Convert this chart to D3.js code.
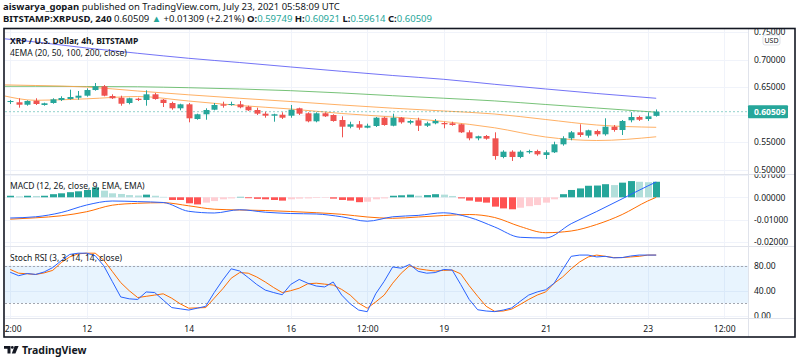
<!DOCTYPE html>
<html>
<head>
<meta charset="utf-8">
<script src="https://cdn.jsdelivr.net/npm/d3@7"></script>
<style>
  body { margin: 0; background: #fff; }
  svg { display: block; font-family: 'Noto Sans', 'Liberation Sans', sans-serif; }
</style>
</head>
<body>
<div id="chart"></div>
<script>
// ---- data (4h candles, first one is 2021-07-10 12:00 UTC) ----
const candleStart = Date.UTC(2021, 6, 10, 12)
const opens = [0.6227, 0.6222, 0.6178, 0.6251, 0.6173, 0.6209, 0.6264, 0.6282, 0.6305, 0.6342,
  0.6445, 0.6513, 0.6336, 0.6305, 0.6209, 0.6287, 0.6264, 0.6367, 0.6269, 0.6209,
  0.6113, 0.6185, 0.5918, 0.6004, 0.6087, 0.6185, 0.6173, 0.6185, 0.6142, 0.6082,
  0.6015, 0.5978, 0.5996, 0.5978, 0.6113, 0.6022, 0.5876, 0.6022, 0.5991, 0.5900,
  0.5778, 0.5822, 0.5760, 0.5791, 0.5942, 0.5796, 0.5942, 0.5851, 0.5895, 0.5796,
  0.5840, 0.5845, 0.5840, 0.5822, 0.5676, 0.5567, 0.5609, 0.5567, 0.5227, 0.5324,
  0.5227, 0.5313, 0.5336, 0.5264, 0.5313, 0.5458, 0.5567, 0.5676, 0.5615, 0.5700,
  0.5640, 0.5778, 0.5718, 0.5895, 0.5955, 0.5918, 0.59749]
const highs = [0.6264, 0.6295, 0.6258, 0.6295, 0.6215, 0.6295, 0.6331, 0.6451, 0.6427, 0.6476,
  0.6573, 0.6536, 0.6367, 0.6342, 0.6305, 0.6305, 0.6440, 0.6391, 0.6282, 0.6233,
  0.6196, 0.6209, 0.6015, 0.6113, 0.6209, 0.6233, 0.6233, 0.6245, 0.6160, 0.6124,
  0.6051, 0.6015, 0.6040, 0.6173, 0.6124, 0.6040, 0.6040, 0.6040, 0.6004, 0.5967,
  0.5869, 0.5882, 0.5833, 0.5955, 0.5960, 0.6015, 0.5955, 0.5905, 0.5942, 0.5869,
  0.5918, 0.5869, 0.5869, 0.5833, 0.5713, 0.5615, 0.5627, 0.5676, 0.5349, 0.5349,
  0.5349, 0.5360, 0.5360, 0.5349, 0.5505, 0.5604, 0.5700, 0.5822, 0.5724, 0.5724,
  0.5931, 0.5809, 0.5900, 0.6040, 0.5978, 0.6040, 0.60921]
const lows = [0.6191, 0.6124, 0.6160, 0.6173, 0.6160, 0.6196, 0.6245, 0.6269, 0.6269, 0.6324,
  0.6433, 0.6331, 0.6282, 0.6160, 0.6185, 0.6245, 0.6160, 0.6269, 0.6136, 0.6087,
  0.6076, 0.5858, 0.5905, 0.5905, 0.6076, 0.6124, 0.6160, 0.6113, 0.6064, 0.5991,
  0.5942, 0.5869, 0.5918, 0.5942, 0.5991, 0.5858, 0.5858, 0.5955, 0.5869, 0.5585,
  0.5749, 0.5724, 0.5749, 0.5773, 0.5796, 0.5785, 0.5833, 0.5822, 0.5700, 0.5773,
  0.5822, 0.5749, 0.5796, 0.5664, 0.5531, 0.5531, 0.5542, 0.5178, 0.5204, 0.5155,
  0.5204, 0.5287, 0.5251, 0.5191, 0.5300, 0.5433, 0.5531, 0.5591, 0.5578, 0.5604,
  0.5615, 0.5687, 0.5627, 0.5858, 0.5882, 0.5882, 0.59614]
const closes = [0.6245, 0.6178, 0.6245, 0.6191, 0.6204, 0.6276, 0.6300, 0.6318, 0.6342, 0.6445,
  0.6513, 0.6342, 0.6295, 0.6196, 0.6295, 0.6264, 0.6367, 0.6282, 0.6209, 0.6113,
  0.6185, 0.5931, 0.6004, 0.6082, 0.6173, 0.6160, 0.6191, 0.6131, 0.6076, 0.6015,
  0.5978, 0.6004, 0.5942, 0.6087, 0.6015, 0.5876, 0.6022, 0.5967, 0.5882, 0.5778,
  0.5822, 0.5760, 0.5796, 0.5942, 0.5809, 0.5942, 0.5858, 0.5882, 0.5796, 0.5840,
  0.5882, 0.5822, 0.5809, 0.5676, 0.5567, 0.5604, 0.5560, 0.5245, 0.5324, 0.5227,
  0.5324, 0.5336, 0.5276, 0.5313, 0.5458, 0.5567, 0.5676, 0.5627, 0.5713, 0.5640,
  0.5778, 0.5718, 0.5882, 0.5955, 0.5905, 0.5967, 0.60509]
const lastPrice = 0.60509

// EMA values read at a few candle indices
const emaIdx = [-1, 3, 9, 15, 21, 27, 33, 39, 45, 51, 57, 63, 69, 76]
const ema20 = [0.6349, 0.6258, 0.6285, 0.6327, 0.6245, 0.6164, 0.6100, 0.6018, 0.5955, 0.5873, 0.5758, 0.5591, 0.5527, 0.5595]
const ema50 = [0.6540, 0.6527, 0.6500, 0.6427, 0.6358, 0.6295, 0.6236, 0.6173, 0.6115, 0.6064, 0.6009, 0.5909, 0.5809, 0.5767]
const ema100 = [0.6513, 0.6513, 0.6509, 0.6504, 0.6487, 0.6464, 0.6433, 0.6391, 0.6342, 0.6296, 0.6247, 0.6182, 0.6118, 0.6042]
const ema200 = [0.7382, 0.7318, 0.7209, 0.7113, 0.7022, 0.6945, 0.6864, 0.6785, 0.6709, 0.6640, 0.6549, 0.6464, 0.6382, 0.6295]

// MACD histogram, one per candle
const macdHist = [0.0007, 0.0004, 0.0007, 0.0006, 0.0007, 0.0014, 0.0018, 0.0023, 0.0027, 0.0033,
  0.0045, 0.0030, 0.0018, 0.0015, 0.0010, 0.0008, 0.0012, 0.0007, 0.0002, -0.0012,
  -0.0012, -0.0027, -0.0032, -0.0024, -0.0017, -0.0009, -0.0005, 0.0002, -0.0004, -0.0007,
  -0.0009, -0.0012, -0.0015, -0.0009, -0.0006, -0.0005, -0.0003, -0.0002, -0.0006, -0.0012,
  -0.0015, -0.0022, -0.0020, -0.0009, -0.0005, 0.0007, 0.0009, 0.0012, 0.0007, 0.0010,
  0.0014, 0.0012, 0.0006, -0.0005, -0.0015, -0.0020, -0.0024, -0.0042, -0.0050, -0.0054,
  -0.0047, -0.0040, -0.0035, -0.0024, -0.0009, 0.0014, 0.0033, 0.0040, 0.0052, 0.0053,
  0.0059, 0.0055, 0.0066, 0.0073, 0.0070, 0.0068, 0.0070]
// MACD and signal lines, read every 3rd candle
const macdIdx = [0, 3, 6, 9, 12, 15, 18, 21, 24, 27, 30, 33, 36, 39, 42, 45, 48, 51, 54, 57, 60, 63, 66, 69, 72, 75, 76]
const macdLine = [-0.00932, -0.00878, -0.00685, -0.00347, -0.00167, -0.00194, -0.00234, -0.00631, -0.00707, -0.00559,
  -0.00671, -0.00730, -0.00752, -0.00878, -0.01077, -0.00878, -0.00815, -0.00698, -0.00901, -0.01338,
  -0.01802, -0.01833, -0.01189, -0.00640, -0.00068, 0.00509, 0.00689]
const signalLine = [-0.00986, -0.00923, -0.00833, -0.00649, -0.00356, -0.00270, -0.00243, -0.00383, -0.00536, -0.00572,
  -0.00595, -0.00640, -0.00694, -0.00766, -0.00887, -0.00946, -0.00887, -0.00820, -0.00775, -0.00910,
  -0.01315, -0.01595, -0.01518, -0.01225, -0.00775, -0.00167, 0.00000]

// Stoch RSI, one per candle
const stochK = [69.5, 64, 67.5, 66, 70, 77, 88, 98, 100, 100,
  96, 80, 55, 30, 27, 26, 38, 37, 25, 13,
  11, 9, 12, 15, 37, 57, 75, 71.5, 61, 50,
  41, 37, 33.5, 50, 58, 52, 47.5, 46, 54, 33,
  19, 9, 6.4, 35, 55, 78, 76, 82, 71, 68,
  69, 74, 73, 50, 26, 9.5, 7.5, 6.5, 9, 12.5,
  23, 33, 38, 41.5, 52, 74, 95, 97, 97, 94,
  95, 92.5, 93, 95.5, 97, 97, 97]
const stochD = [74, 68, 67, 66, 68.5, 72.5, 85, 94, 99, 100,
  100, 89, 71, 53, 40, 29, 31, 33, 35, 28,
  19, 12, 12.5, 13, 28, 43, 60, 69, 68, 62,
  54, 45, 37, 40, 44, 51, 52, 50.5, 49, 42,
  33, 20, 12, 22, 33, 52, 68, 80, 75, 73,
  71.5, 72.5, 73, 67, 48, 31, 15, 7, 7.5, 10.5,
  18, 26, 33, 38, 52, 62, 75, 86, 94, 97,
  95, 93, 93, 94, 95, 97, 97]

// axes
const priceTicks = [0.75, 0.70, 0.65, 0.60, 0.55, 0.50]
const priceLabels = [0.75, 0.70, 0.65, 0.55, 0.50]
const macdTicks = [0.01, 0, -0.01, -0.02]
const rsiTicks = [0, 40, 80]
const timeTicks = [Date.UTC(2021, 6, 10, 12), Date.UTC(2021, 6, 12), Date.UTC(2021, 6, 14), Date.UTC(2021, 6, 16),
  Date.UTC(2021, 6, 17, 12), Date.UTC(2021, 6, 19), Date.UTC(2021, 6, 21), Date.UTC(2021, 6, 23), Date.UTC(2021, 6, 24, 12)]
const timeLabels = ['12:00', '12', '14', '16', '12:00', '19', '21', '23', '12:00']

// ---- layout ----
const W = 800
const H = 362
const left = 5
const right = 748
const panes = {
  main: [29, 174],
  macd: [174.5, 246],
  rsi: [246.5, 318]
}
const up = '#26a69a'
const down = '#ef5350'
const textColor = '#131722'
const fontFamily = "'Noto Sans', 'Liberation Sans', sans-serif"

const svg = d3.select('#chart').append('svg')
  .attr('width', W)
  .attr('height', H)

const t = i => new Date(candleStart + i * 4 * 3600 * 1000)
const x = d3.scaleTime()
  .domain([new Date(Date.UTC(2021, 6, 10, 9, 33)), new Date(Date.UTC(2021, 6, 24, 23, 12))])
  .range([left, right])
const yPrice = d3.scaleLinear().domain([0.5, 0.75]).range([169.5, 32])
const yMacd = d3.scaleLinear().domain([-0.02, 0.01]).range([241.7, 175.1])
const yRsi = d3.scaleLinear().domain([0, 100]).range([315.7, 253.2])

const defs = svg.append('defs')
Object.keys(panes).forEach(function (k) {
  const p = panes[k]
  defs.append('clipPath').attr('id', 'clip-' + k)
    .append('rect').attr('x', left).attr('y', p[0]).attr('width', right - left).attr('height', p[1] - p[0])
  defs.append('clipPath').attr('id', 'axclip-' + k)
    .append('rect').attr('x', right).attr('y', p[0]).attr('width', W - right).attr('height', p[1] - p[0])
})

// header
const head = svg.append('g').attr('font-size', 9.5).attr('fill', textColor)
const h1 = head.append('text').attr('x', 3).attr('y', 10)
h1.append('tspan').attr('font-weight', 'bold').text('aiswarya_gopan')
h1.append('tspan').text(' published on TradingView.com, July 23, 2021 05:58:09 UTC')
const h2 = head.append('text').attr('x', 3).attr('y', 22)
h2.append('tspan').attr('font-weight', 'bold').text('BITSTAMP:XRPUSD, 240')
h2.append('tspan').text(' 0.60509 ')
h2.append('tspan').attr('fill', up).text('▲')
h2.append('tspan').text(' +0.01309 (+2.21%) ')
const ohlc = [['O:', '0.59749'], ['H:', '0.60921'], ['L:', '0.59614'], ['C:', '0.60509']]
ohlc.forEach(function (d, i) {
  h2.append('tspan').attr('font-weight', 'bold').text((i ? ' ' : '') + d[0])
  h2.append('tspan').attr('fill', up).text(d[1])
})

// grid
const grid = svg.append('g').attr('stroke', '#f0f3fa').attr('stroke-width', 1)
grid.selectAll('line.v').data(timeTicks).enter().append('line')
  .attr('x1', d => Math.round(x(d)) + 0.5).attr('x2', d => Math.round(x(d)) + 0.5)
  .attr('y1', panes.main[0]).attr('y2', panes.rsi[1])
grid.selectAll('line.p').data(priceTicks).enter().append('line')
  .attr('x1', left).attr('x2', right)
  .attr('y1', d => Math.round(yPrice(d)) + 0.5).attr('y2', d => Math.round(yPrice(d)) + 0.5)
grid.selectAll('line.m').data(macdTicks).enter().append('line')
  .attr('clip-path', 'url(#clip-macd)')
  .attr('x1', left).attr('x2', right)
  .attr('y1', d => Math.round(yMacd(d)) + 0.5).attr('y2', d => Math.round(yMacd(d)) + 0.5)
grid.selectAll('line.r').data(rsiTicks).enter().append('line')
  .attr('x1', left).attr('x2', right)
  .attr('y1', d => Math.round(yRsi(d)) + 0.5).attr('y2', d => Math.round(yRsi(d)) + 0.5)

// ---- main pane ----
const main = svg.append('g').attr('clip-path', 'url(#clip-main)')
const emaLine = d3.line()
  .x((d, i) => x(t(emaIdx[i])))
  .y(d => yPrice(d))
  .curve(d3.curveMonotoneX)
const emas = [[ema200, '#5b5bf5'], [ema100, '#5fb760'], [ema50, '#ffa24a'], [ema20, '#ffa24a']]
emas.forEach(function (e) {
  main.append('path').datum(e[0])
    .attr('d', emaLine)
    .attr('fill', 'none')
    .attr('stroke', e[1])
    .attr('stroke-opacity', 0.85)
    .attr('stroke-width', 1)
})

main.append('line')
  .attr('x1', left).attr('x2', right)
  .attr('y1', yPrice(lastPrice)).attr('y2', yPrice(lastPrice))
  .attr('stroke', up).attr('stroke-opacity', 0.5)
  .attr('stroke-dasharray', '2,2')

const candles = main.selectAll('g.candle').data(opens).enter().append('g')
  .attr('fill', (d, i) => closes[i] >= d ? up : down)
  .attr('stroke', (d, i) => closes[i] >= d ? up : down)
candles.append('line')
  .attr('x1', (d, i) => Math.round(x(t(i))) + 0.5)
  .attr('x2', (d, i) => Math.round(x(t(i))) + 0.5)
  .attr('y1', (d, i) => yPrice(highs[i]))
  .attr('y2', (d, i) => yPrice(lows[i]))
  .attr('stroke-width', 1)
candles.append('rect')
  .attr('stroke', 'none')
  .attr('x', (d, i) => Math.round(x(t(i))) - 2.5)
  .attr('width', 6)
  .attr('y', (d, i) => yPrice(Math.max(d, closes[i])))
  .attr('height', (d, i) => Math.max(1, Math.abs(yPrice(d) - yPrice(closes[i]))))

const legend = svg.append('g').attr('fill', textColor).attr('font-size', 8.5)
legend.append('text').attr('x', 10).attr('y', 44).attr('font-weight', 'bold').text('XRP / U.S. Dollar, 4h, BITSTAMP')
legend.append('text').attr('x', 10).attr('y', 56).text('4EMA (20, 50, 100, 200, close)')

// ---- MACD pane ----
const macdG = svg.append('g').attr('clip-path', 'url(#clip-macd)')
macdG.selectAll('rect').data(macdHist).enter().append('rect')
  .attr('x', (d, i) => Math.round(x(t(i))) - 3)
  .attr('width', 7)
  .attr('y', d => yMacd(Math.max(0, d)))
  .attr('height', d => Math.max(0.5, Math.abs(yMacd(d) - yMacd(0))))
  .attr('fill', function (d, i) {
    const prev = i ? macdHist[i - 1] : -1
    if (d >= 0) return prev < d ? '#26a69a' : '#b2dfdb'
    return prev < d ? '#ffcdd2' : '#ff5252'
  })
const macdPath = d3.line()
  .x((d, i) => x(t(macdIdx[i])))
  .y(d => yMacd(d))
  .curve(d3.curveMonotoneX)
macdG.append('path').datum(signalLine).attr('d', macdPath)
  .attr('fill', 'none').attr('stroke', '#ff6d00').attr('stroke-width', 1)
macdG.append('path').datum(macdLine).attr('d', macdPath)
  .attr('fill', 'none').attr('stroke', '#2962ff').attr('stroke-width', 1)
svg.append('text').attr('x', 10).attr('y', 189).attr('font-size', 8.5).attr('fill', textColor)
  .text('MACD (12, 26, close, 9, EMA, EMA)')

// ---- Stoch RSI pane ----
const rsiG = svg.append('g').attr('clip-path', 'url(#clip-rsi)')
rsiG.append('rect')
  .attr('x', left).attr('width', right - left)
  .attr('y', yRsi(80)).attr('height', yRsi(20) - yRsi(80))
  .attr('fill', 'rgba(33,150,243,0.1)')
rsiG.selectAll('line.band').data([80, 20]).enter().append('line')
  .attr('x1', left).attr('x2', right)
  .attr('y1', d => Math.round(yRsi(d)) + 0.5).attr('y2', d => Math.round(yRsi(d)) + 0.5)
  .attr('stroke', '#a3a6af').attr('stroke-dasharray', '2,2')
const rsiPath = d3.line()
  .x((d, i) => x(t(i)))
  .y(d => yRsi(d))
rsiG.append('path').datum(stochD).attr('d', rsiPath)
  .attr('fill', 'none').attr('stroke', '#ff6d00').attr('stroke-width', 1)
rsiG.append('path').datum(stochK).attr('d', rsiPath)
  .attr('fill', 'none').attr('stroke', '#2962ff').attr('stroke-width', 1)
svg.append('text').attr('x', 10).attr('y', 261).attr('font-size', 8.5).attr('fill', textColor)
  .text('Stoch RSI (3, 3, 14, 14, close)')

// ---- separators ----
const sep = svg.append('g').attr('stroke', '#e0e3eb').attr('stroke-width', 1)
sep.append('line').attr('x1', left).attr('x2', 795).attr('y1', 174.5).attr('y2', 174.5)
sep.append('line').attr('x1', left).attr('x2', 795).attr('y1', 246.5).attr('y2', 246.5)
sep.append('line').attr('x1', left).attr('x2', 795).attr('y1', 318.5).attr('y2', 318.5)
sep.append('line').attr('x1', right + 0.5).attr('x2', right + 0.5).attr('y1', 29).attr('y2', 337)

// ---- value axes (clip on the outer group, axis moved inside it) ----
const fmt5 = v => d3.format('.5f')(v).replace('−', '-')
function valueAxis (scale, ticks, format, pane) {
  const g = svg.append('g')
    .attr('clip-path', 'url(#axclip-' + pane + ')')
    .append('g')
    .attr('transform', 'translate(' + right + ',0)')
    .call(d3.axisRight(scale).tickValues(ticks).tickFormat(format).tickSize(0).tickPadding(6))
  g.select('.domain').remove()
  g.selectAll('text').attr('font-size', 8.5).attr('fill', textColor)
    .attr('font-family', fontFamily)
  return g
}
valueAxis(yPrice, priceLabels, fmt5, 'main')
valueAxis(yMacd, macdTicks, fmt5, 'macd')
valueAxis(yRsi, rsiTicks, d3.format('.2f'), 'rsi')

// last price tag
const tag = svg.append('g')
tag.append('rect').attr('x', right).attr('y', yPrice(lastPrice) - 6.5)
  .attr('width', 40).attr('height', 13).attr('rx', 1).attr('fill', up)
tag.append('text').attr('x', right + 6).attr('y', yPrice(lastPrice) + 3.2)
  .attr('font-size', 8.5).attr('font-weight', 'bold').attr('fill', '#fff').text(fmt5(lastPrice))

// currency box
const cur = svg.append('g')
cur.append('rect').attr('x', 763).attr('y', 35).attr('width', 17).attr('height', 10).attr('rx', 2)
  .attr('fill', '#fff').attr('stroke', '#d1d4dc').attr('stroke-width', 0.7)
cur.append('text').attr('x', 771.5).attr('y', 42.5).attr('text-anchor', 'middle')
  .attr('font-size', 7).attr('fill', textColor).text('USD')

// ---- time axis ----
const tAxis = svg.append('g')
  .attr('transform', 'translate(0,318)')
  .call(d3.axisBottom(x).tickValues(timeTicks.map(d => new Date(d)))
    .tickFormat((d, i) => timeLabels[i]).tickSize(0).tickPadding(8))
tAxis.select('.domain').remove()
tAxis.selectAll('text').attr('font-size', 8.5).attr('fill', textColor)
  .attr('font-family', fontFamily)

// hide the part of the first time label left of the frame
svg.append('rect').attr('x', 0).attr('y', 300).attr('width', 4).attr('height', 40).attr('fill', '#fff')

// frame
svg.append('rect').attr('x', 4).attr('y', 28.5).attr('width', 791).attr('height', 308.5)
  .attr('fill', 'none').attr('stroke', '#131722').attr('stroke-width', 1.6)

// ---- logo ----
const logo = svg.append('g').attr('fill', textColor)
logo.append('path').attr('d', 'M4 346 h6.5 v7.5 h-3 v-4.8 h-3.5 z')
logo.append('circle').attr('cx', 12.3).attr('cy', 347.4).attr('r', 1.4)
logo.append('path').attr('d', 'M14.6 346 h4 l-3.2 7.5 h-3.6 z')
logo.append('text').attr('x', 22).attr('y', 353.5).attr('font-size', 10.5).attr('font-weight', 'bold')
  .text('TradingView')
</script>
</body>
</html>
